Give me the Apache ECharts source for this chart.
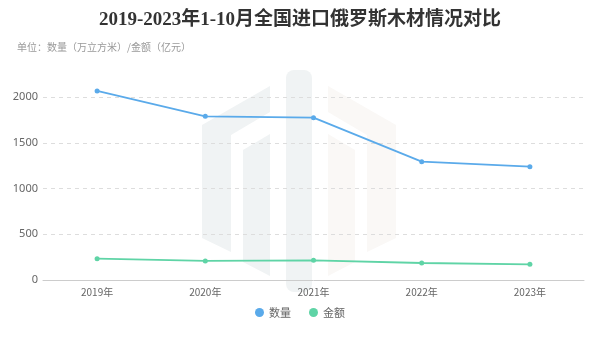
<!DOCTYPE html>
<html>
<head>
<meta charset="utf-8">
<script src="https://cdn.jsdelivr.net/npm/echarts@6/dist/echarts.min.js"></script>
<style>
html,body{margin:0;padding:0;background:#fff;}
#chart{width:600px;height:337px;}
</style>
</head>
<body>
<div id="chart"></div>
<script>
// Russian timber imports, Jan–Oct of each year
const years = ['2019年', '2020年', '2021年', '2022年', '2023年'];
const volume = [2066, 1789, 1774, 1293, 1238];   // 万立方米
const amount = [233, 208, 215, 186, 171];        // 亿元
const yTicks = { min: 0, max: 2000, interval: 500 };

const seriesNames = ['数量', '金额'];
const colors = ['#5aaaea', '#5fd4a6'];

// faint logo behind the plot
const logoGray = '#f0f3f4';
const logoWarm = '#faf8f6';
const logo = [
  { type: 'polygon', shape: { points: [[202,125],[270,86],[270,112],[231,135],[231,252],[202,238]] }, style: { fill: logoGray } },
  { type: 'polygon', shape: { points: [[243,150],[270,134],[270,276],[243,262]] }, style: { fill: logoGray } },
  { type: 'rect', shape: { x: 286, y: 70, width: 26, height: 222, r: 8 }, style: { fill: logoGray } },
  { type: 'polygon', shape: { points: [[396,125],[328,86],[328,112],[367,135],[367,252],[396,238]] }, style: { fill: logoWarm } },
  { type: 'polygon', shape: { points: [[355,150],[328,134],[328,276],[355,262]] }, style: { fill: logoWarm } }
].map(g => Object.assign(g, { z: -10, silent: true }));

const chart = echarts.init(document.getElementById('chart'));
chart.setOption({
  backgroundColor: '#fff',
  animation: false,
  graphic: logo,
  title: [
    {
      text: '2019-2023年1-10月全国进口俄罗斯木材情况对比',
      left: 'center',
      top: 6,
      textStyle: { fontFamily: '"Liberation Serif", "Noto Sans CJK SC", serif', fontWeight: 'bold', fontSize: 19, color: '#333' }
    },
    {
      text: '单位：数量（万立方米）/金额（亿元）',
      left: 12,
      top: 37,
      textStyle: { fontFamily: '"Noto Sans CJK SC", sans-serif', fontWeight: 'normal', fontSize: 10, color: '#999' }
    }
  ],
  legend: {
    data: seriesNames,
    bottom: 14,
    left: 'center',
    icon: 'circle',
    itemWidth: 9,
    itemHeight: 9,
    itemGap: 18,
    textStyle: { fontFamily: '"Noto Sans CJK SC", sans-serif', fontSize: 11, color: '#666' }
  },
  grid: { left: 43, right: 16, top: 97, bottom: 57 },
  xAxis: {
    type: 'category',
    data: years,
    axisLine: { lineStyle: { color: '#ccc' } },
    axisTick: { alignWithLabel: true, lineStyle: { color: '#ccc' } },
    axisLabel: { color: '#666', fontSize: 10, margin: 7, fontFamily: '"Noto Sans CJK SC", sans-serif' }
  },
  yAxis: {
    type: 'value',
    min: yTicks.min,
    max: yTicks.max,
    interval: yTicks.interval,
    axisLine: { show: false },
    axisTick: { show: false },
    axisLabel: { color: '#666', fontSize: 11, margin: 5, fontFamily: '"Noto Sans", sans-serif', formatter: v => String(v) },
    splitLine: { lineStyle: { color: '#ddd', type: [4, 4] } }
  },
  series: [
    {
      name: seriesNames[0], type: 'line', data: volume, clip: false,
      symbol: 'circle', symbolSize: 5,
      itemStyle: { color: colors[0] },
      lineStyle: { width: 1.8, color: colors[0] }
    },
    {
      name: seriesNames[1], type: 'line', data: amount, clip: false,
      symbol: 'circle', symbolSize: 5,
      itemStyle: { color: colors[1] },
      lineStyle: { width: 1.8, color: colors[1] }
    }
  ]
});
</script>
</body>
</html>
